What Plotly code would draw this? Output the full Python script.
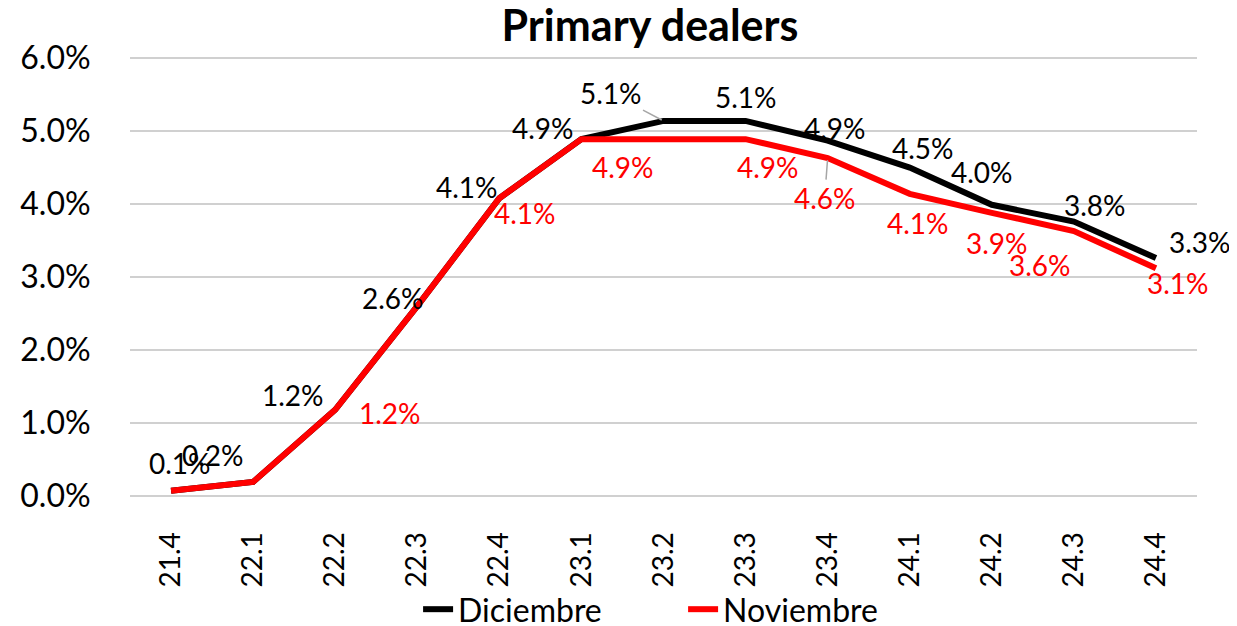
import plotly.graph_objects as go

# quarters (yy.q)
quarters = ["21.4", "22.1", "22.2", "22.3", "22.4", "23.1", "23.2",
            "23.3", "23.4", "24.1", "24.2", "24.3", "24.4"]

# expectations, %
diciembre = [0.07, 0.19, 1.18, 2.60, 4.08, 4.89, 5.14, 5.14, 4.87, 4.50, 3.99, 3.76, 3.26]
noviembre = [0.07, 0.19, 1.18, 2.60, 4.08, 4.89, 4.89, 4.89, 4.63, 4.14, 3.88, 3.63, 3.12]

# label offsets in pixels (dx, dy), None = label not shown
dic_offsets = [(9, -28), (-40, -27), (-42, -15), (-24, -8), (-32, -11), (-38, -11),
               (-53, -28), (0, -24), (7, -13), (13, -20), (-10, -33), (21, -17), (44, -16)]
nov_offsets = [None, None, (55, 3), None, (26, 15), (42, 28),
               None, (22, 28), (-3, 40), (8, 29), (5, 30), (-34, 34), (22, 15)]
dic_leader = [6]
nov_leader = [8]

FONT = "Lato"

fig = go.Figure()
fig.add_trace(go.Scatter(x=quarters, y=diciembre, name="Diciembre", mode="lines",
                         line=dict(color="#000000", width=6)))
fig.add_trace(go.Scatter(x=quarters, y=noviembre, name="Noviembre", mode="lines",
                         line=dict(color="#ff0000", width=6)))


def add_labels(values, offsets, leaders, color):
    for i, v in enumerate(values):
        if offsets[i] is None:
            continue
        dx, dy = offsets[i]
        lead = i in leaders
        # category axis: annotation x given as category index
        fig.add_annotation(x=i, y=v, xref="x", yref="y", ax=dx, ay=dy,
                           text=f"{v:.1f}%", showarrow=True, arrowhead=0,
                           arrowwidth=1.5,
                           arrowcolor="#a6a6a6" if lead else "rgba(0,0,0,0)",
                           standoff=2, font=dict(family=FONT, size=28, color=color))


add_labels(diciembre, dic_offsets, dic_leader, "#000000")
add_labels(noviembre, nov_offsets, nov_leader, "#ff0000")

# the page body adds an 8px offset, margins are set to compensate
fig.update_layout(
    width=1237, height=626,
    margin=dict(l=122, r=48, t=48, b=136, autoexpand=False),
    paper_bgcolor="white", plot_bgcolor="white",
    title=dict(text="<b>Primary dealers</b>", x=0.519, xanchor="center",
               y=0.972, yanchor="middle",
               font=dict(family=FONT, size=43, color="#000000")),
    showlegend=True,
    legend=dict(orientation="h", x=0.27, xanchor="left", y=-0.252, yanchor="middle",
                bgcolor="rgba(0,0,0,0)",
                font=dict(family=FONT, size=32, color="#000000"),
                entrywidth=220, entrywidthmode="pixels", tracegroupgap=0),
    xaxis=dict(type="category", range=[-0.5, 12.5], tickangle=-90, showgrid=False,
               zeroline=False, showline=False, ticks="outside", ticklen=22,
               tickcolor="white", automargin=False,
               tickfont=dict(family=FONT, size=28, color="#000000")),
    yaxis=dict(range=[-0.03, 6.03], tick0=0, dtick=1,
               tickformat=".1f", ticksuffix="%",
               showgrid=True, gridcolor="#d0d0d0", gridwidth=2, zeroline=False,
               showline=False, ticks="outside", ticklen=32, tickcolor="white",
               automargin=False,
               tickfont=dict(family=FONT, size=32, color="#000000")),
)

fig.write_html("out.html")
